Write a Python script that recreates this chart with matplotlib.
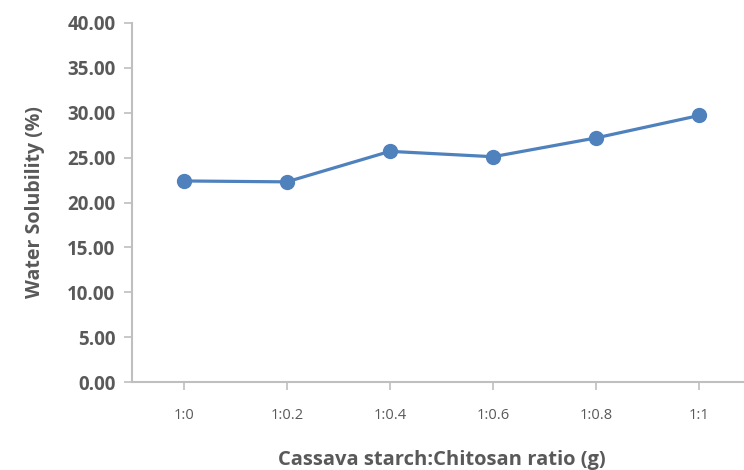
import matplotlib
matplotlib.use("Agg")
import matplotlib.pyplot as plt

# water solubility of cassava starch / chitosan films
ratios = ["1:0", "1:0.2", "1:0.4", "1:0.6", "1:0.8", "1:1"]
solubility = [22.4, 22.3, 25.7, 25.1, 27.2, 29.7]

plt.rcParams['font.family'] = ['Open Sans', 'DejaVu Sans']

fig = plt.figure(figsize=(7.44, 4.70), dpi=100)
ax = fig.add_axes([132 / 744, 1 - 382 / 470, 619 / 744, 359 / 470])

x = list(range(len(ratios)))
ax.plot(x, solubility, color="#4F81BD", linewidth=2.3, marker="o",
        markersize=10, markerfacecolor="#4F81BD", markeredgecolor="#4F81BD")

ax.set_xlim(-0.5, len(ratios) - 0.5)
ax.set_ylim(0, 40)
ax.set_yticks([0, 5, 10, 15, 20, 25, 30, 35, 40])
ax.set_yticklabels(["%.2f" % v for v in ax.get_yticks()])
ax.set_xticks(x)
ax.set_xticklabels(ratios)

grey = "#BFBFBF"
text_grey = "#595959"
for side in ["top", "right"]:
    ax.spines[side].set_visible(False)
for side in ["left", "bottom"]:
    ax.spines[side].set_color(grey)
    ax.spines[side].set_linewidth(1.5)

ax.tick_params(axis="y", colors=grey, labelcolor=text_grey, length=6,
               width=1.2, labelsize=13.5, pad=6)
ax.tick_params(axis="x", colors=grey, labelcolor=text_grey, length=6,
               width=1.2, labelsize=10.5, pad=13)
for lbl in ax.get_yticklabels():
    lbl.set_fontweight("bold")

ax.set_ylabel("Water Solubility (%)", fontsize=14, fontweight="bold",
              color=text_grey, labelpad=16)
ax.set_xlabel("Cassava starch:Chitosan ratio (g)", fontsize=14.5,
              fontweight="bold", color=text_grey, labelpad=19)

fig.savefig("out.png", dpi=100)
